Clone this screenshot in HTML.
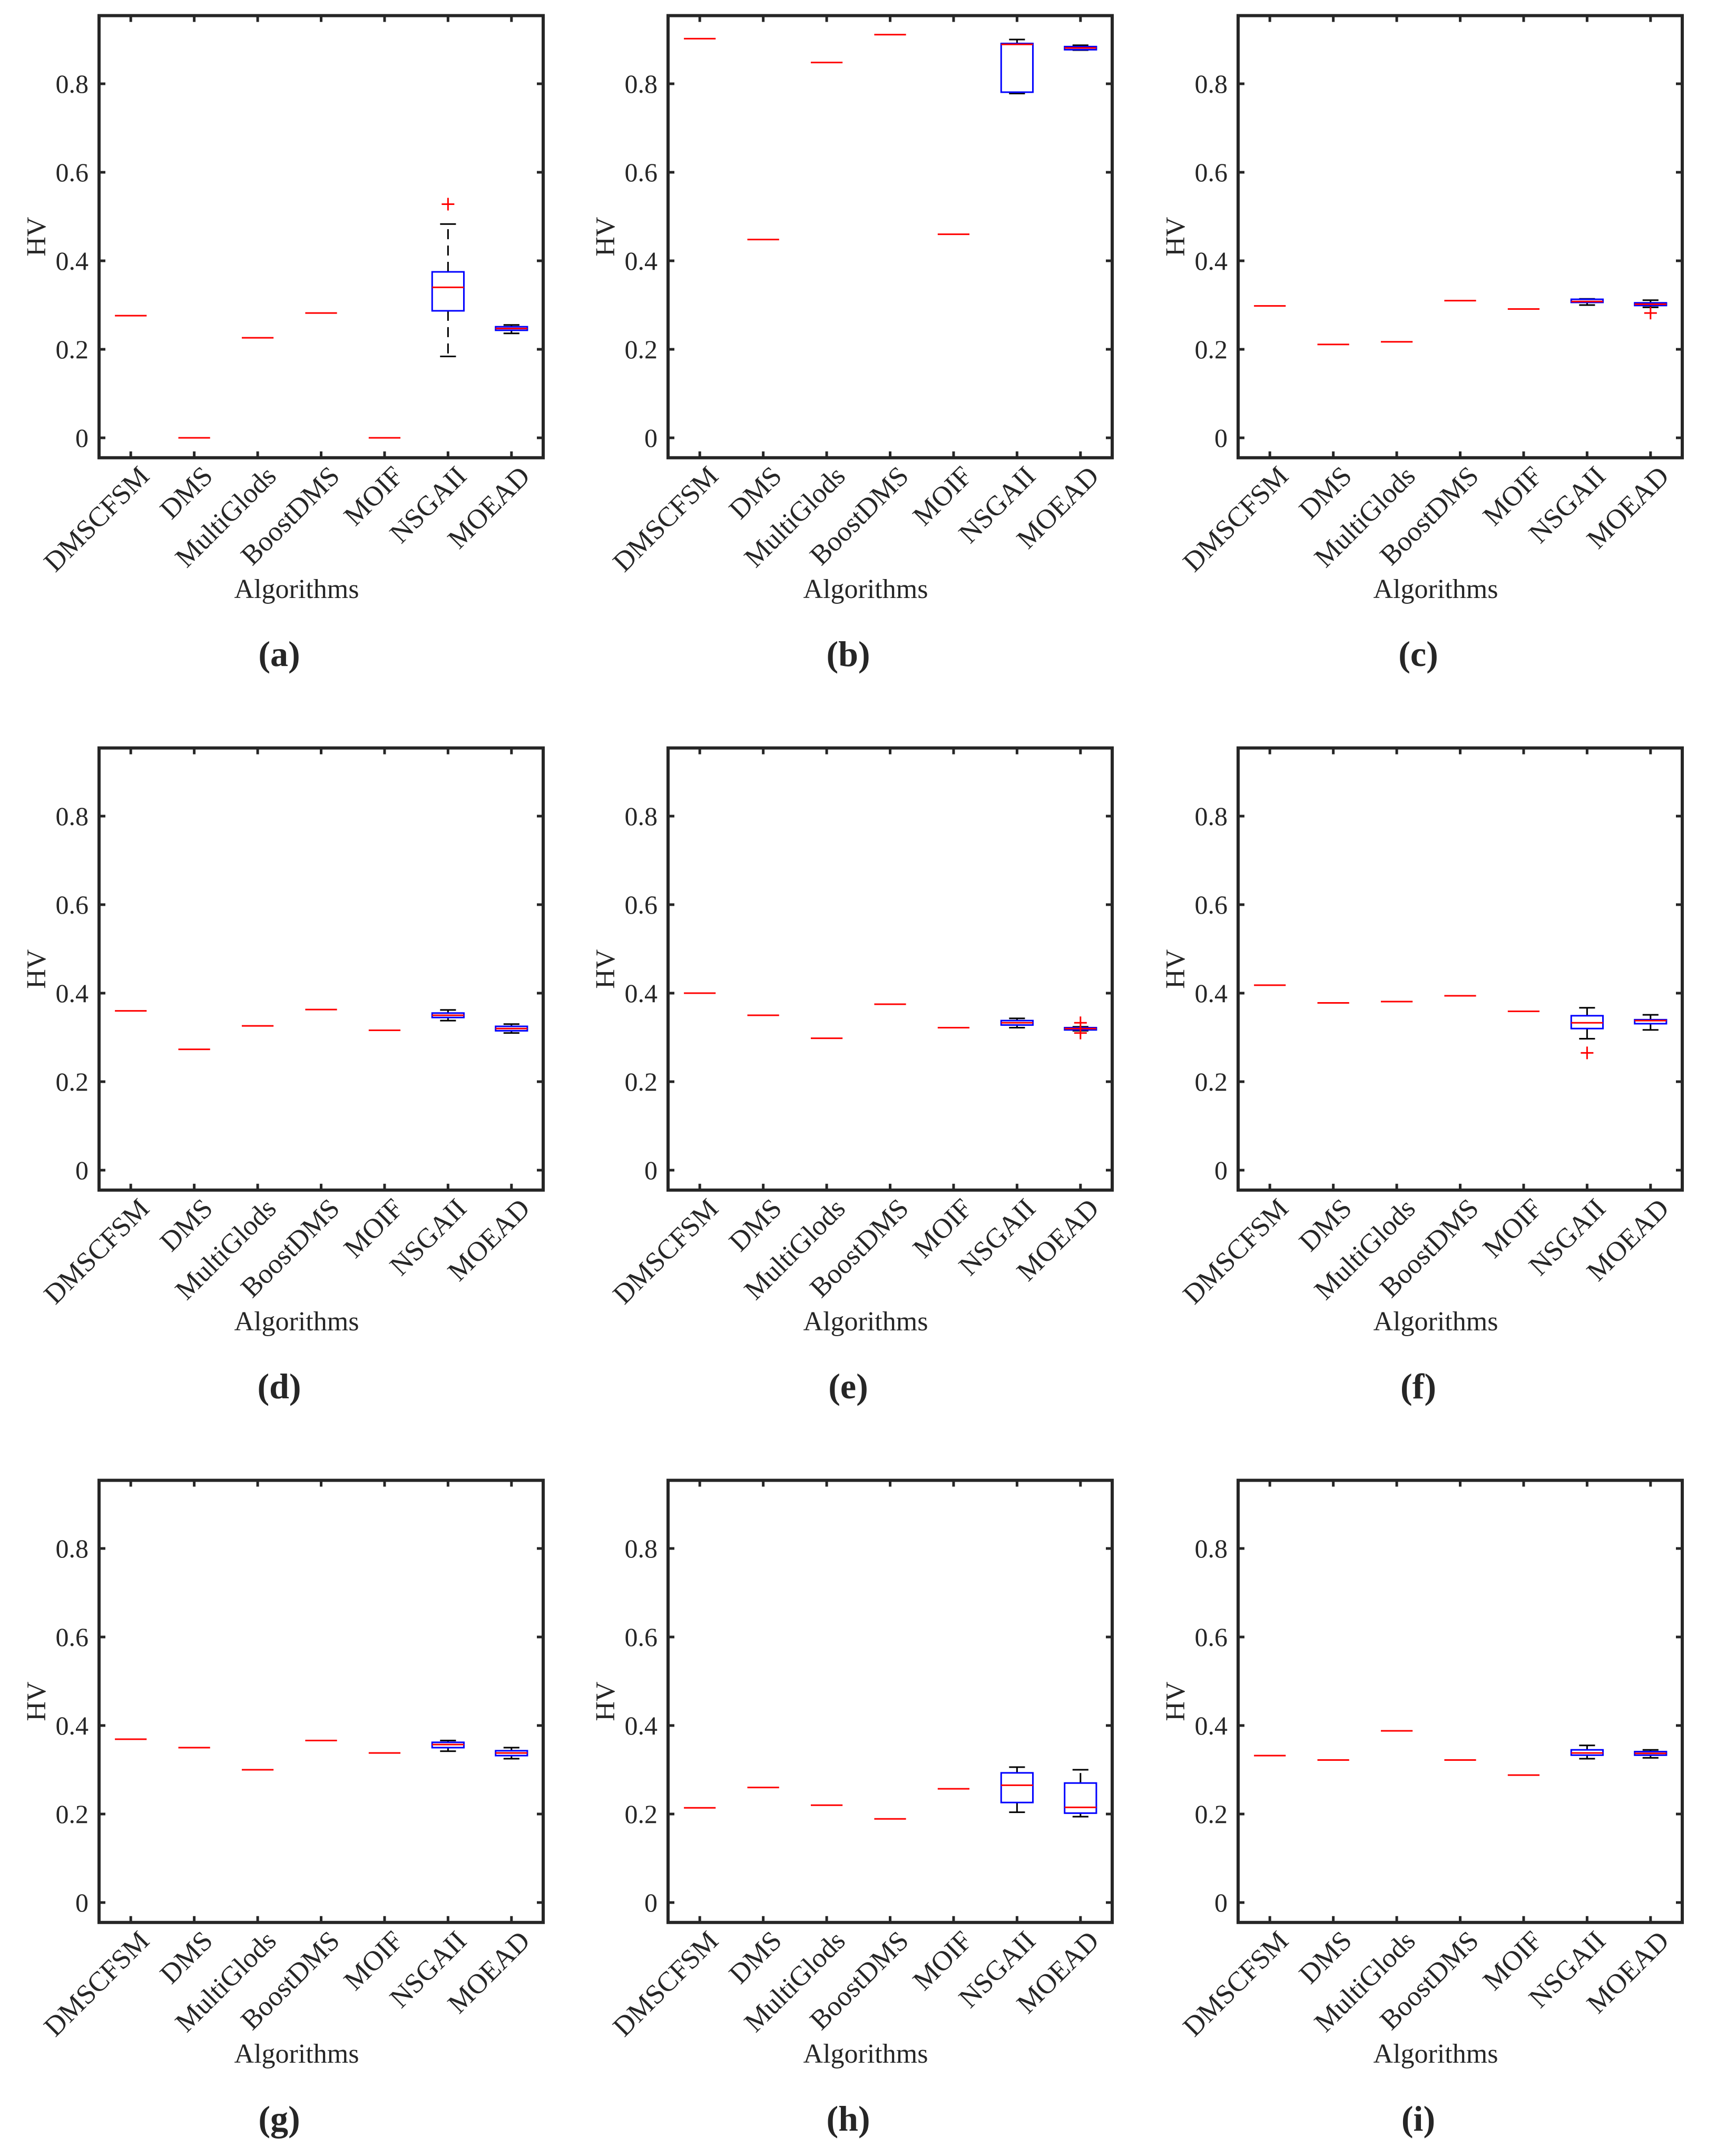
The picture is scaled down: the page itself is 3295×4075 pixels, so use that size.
<!DOCTYPE html>
<html><head><meta charset="utf-8"><style>
html,body{margin:0;padding:0;background:#fff;}
svg{display:block;}
text{font-family:"Liberation Serif",serif;fill:#262626;}
</style></head><body>
<svg id="fig" width="3295" height="4075" viewBox="0 0 3295 4075" xmlns="http://www.w3.org/2000/svg"></svg>
<script>
const categories = ["DMSCFSM","DMS","MultiGlods","BoostDMS","MOIF","NSGAII","MOEAD"];
const panelLabels = ["a","b","c","d","e","f","g","h","i"];
const yTicks = [0,0.2,0.4,0.6,0.8];
const yTickLabels = ["0","0.2","0.4","0.6","0.8"];
// per panel, per category: [whiskerLow, q1, median, q3, whiskerHigh]
const statsA = [[0.276,0.276,0.276,0.276,0.276],[0,0,0,0,0],[0.226,0.226,0.226,0.226,0.226],[0.282,0.282,0.282,0.282,0.282],[0,0,0,0,0],[0.184,0.287,0.340,0.375,0.483],[0.236,0.243,0.247,0.251,0.255]];
const statsB = [[0.902,0.902,0.902,0.902,0.902],[0.448,0.448,0.448,0.448,0.448],[0.848,0.848,0.848,0.848,0.848],[0.911,0.911,0.911,0.911,0.911],[0.460,0.460,0.460,0.460,0.460],[0.778,0.781,0.889,0.891,0.900],[0.876,0.877,0.881,0.884,0.887]];
const statsC = [[0.298,0.298,0.298,0.298,0.298],[0.211,0.211,0.211,0.211,0.211],[0.217,0.217,0.217,0.217,0.217],[0.310,0.310,0.310,0.310,0.310],[0.291,0.291,0.291,0.291,0.291],[0.300,0.306,0.308,0.313,0.314],[0.295,0.299,0.302,0.305,0.311]];
const statsD = [[0.360,0.360,0.360,0.360,0.360],[0.273,0.273,0.273,0.273,0.273],[0.326,0.326,0.326,0.326,0.326],[0.363,0.363,0.363,0.363,0.363],[0.316,0.316,0.316,0.316,0.316],[0.338,0.345,0.350,0.355,0.362],[0.310,0.315,0.320,0.325,0.330]];
const statsE = [[0.400,0.400,0.400,0.400,0.400],[0.350,0.350,0.350,0.350,0.350],[0.298,0.298,0.298,0.298,0.298],[0.375,0.375,0.375,0.375,0.375],[0.322,0.322,0.322,0.322,0.322],[0.322,0.328,0.333,0.338,0.343],[0.315,0.317,0.320,0.322,0.324]];
const statsF = [[0.418,0.418,0.418,0.418,0.418],[0.378,0.378,0.378,0.378,0.378],[0.381,0.381,0.381,0.381,0.381],[0.394,0.394,0.394,0.394,0.394],[0.359,0.359,0.359,0.359,0.359],[0.297,0.320,0.333,0.349,0.367],[0.317,0.331,0.338,0.340,0.351]];
const statsG = [[0.369,0.369,0.369,0.369,0.369],[0.350,0.350,0.350,0.350,0.350],[0.300,0.300,0.300,0.300,0.300],[0.366,0.366,0.366,0.366,0.366],[0.338,0.338,0.338,0.338,0.338],[0.342,0.350,0.357,0.362,0.366],[0.325,0.332,0.338,0.343,0.350]];
const statsH = [[0.214,0.214,0.214,0.214,0.214],[0.260,0.260,0.260,0.260,0.260],[0.220,0.220,0.220,0.220,0.220],[0.189,0.189,0.189,0.189,0.189],[0.257,0.257,0.257,0.257,0.257],[0.204,0.226,0.265,0.293,0.306],[0.194,0.202,0.215,0.270,0.300]];
const statsI = [[0.332,0.332,0.332,0.332,0.332],[0.322,0.322,0.322,0.322,0.322],[0.388,0.388,0.388,0.388,0.388],[0.322,0.322,0.322,0.322,0.322],[0.288,0.288,0.288,0.288,0.288],[0.325,0.333,0.338,0.345,0.355],[0.327,0.333,0.337,0.341,0.345]];
const allStats = [statsA,statsB,statsC,statsD,statsE,statsF,statsG,statsH,statsI];
// outliers: [panelIndex, categoryIndex, value]
const outliers = [[0,5,0.528],[2,6,0.282],[4,6,0.333],[4,6,0.310],[5,5,0.265]];

const NS="http://www.w3.org/2000/svg";
const svg=document.getElementById('fig');
function mk(tag,attrs,parent){const e=document.createElementNS(NS,tag);for(const k in attrs)e.setAttribute(k,attrs[k]);(parent||svg).appendChild(e);return e;}
const colLeft=[188,1268,2350], W=843, rowZero=[831,2221,3611], PX=840, YMIN=-0.045, YMAX=0.954;

allStats.forEach((stats,p)=>{
  const r=Math.floor(p/3), c=p%3;
  const L=colLeft[c], R=L+W;
  const yS=v=>rowZero[r]-v*PX;
  const xS=i=>L+(i+0.5)*W/7;
  const T=yS(YMAX), B=yS(YMIN);
  const g=mk('g',{});
  
  
  yTicks.forEach((t,k)=>{
    const y=yS(t);
    const tk=mk('path',{d:`M${L} ${y}h12M${R} ${y}h-12`,stroke:'#262626','stroke-width':5},g);
    
    
    const tl=mk('text',{x:L-20,y:y+17,'text-anchor':'end','font-size':50},g);
    
    
    tl.textContent=yTickLabels[k];
  });
  categories.forEach((cat,i)=>{
    const x=xS(i);
    const tk=mk('path',{d:`M${x} ${B}v-12M${x} ${T}v12`,stroke:'#262626','stroke-width':5},g);
    
    
    const tl=mk('text',{x:0,y:0,'text-anchor':'end','font-size':53,transform:`translate(${x+38},${B+38}) rotate(-45)`},g);
    
    
    tl.textContent=cat;
  });
  stats.forEach((s,i)=>{
    const x=xS(i), hw=W/7*0.25, cw=W/7*0.125;
    const bg=mk('g',{},g);
    
    
    const dash='19,12';
    if(s[4]>s[3]) mk('path',{d:`M${x} ${yS(s[3])}V${yS(s[4])}`,stroke:'#000','stroke-width':3,'stroke-dasharray':dash},bg);
    if(s[1]>s[0]) mk('path',{d:`M${x} ${yS(s[1])}V${yS(s[0])}`,stroke:'#000','stroke-width':3,'stroke-dasharray':dash},bg);
    if(s[4]>s[0]){
      mk('path',{d:`M${x-cw} ${yS(s[4])}h${2*cw}M${x-cw} ${yS(s[0])}h${2*cw}`,stroke:'#000','stroke-width':3},bg);
    }
    mk('rect',{x:x-hw,y:yS(s[3]),width:2*hw,height:Math.max(0,yS(s[1])-yS(s[3])),fill:'none',stroke:'#0000ff','stroke-width':3},bg);
    mk('path',{d:`M${x-hw} ${yS(s[2])}h${2*hw}`,stroke:'#ff0000','stroke-width':3},bg);
  });
  outliers.filter(o=>o[0]===p).forEach(o=>{
    const x=xS(o[1]), y=yS(o[2]);
    const om=mk('path',{d:`M${x-12} ${y}h24M${x} ${y-12}v24`,stroke:'#ff0000','stroke-width':3},g);
    
    
  });
  const ax=mk('rect',{x:L,y:T,width:W,height:B-T,fill:'none',stroke:'#262626','stroke-width':6},g);
  
  
  const yl=mk('text',{x:0,y:0,'text-anchor':'middle','font-size':52,transform:`translate(${L-102},${(T+B)/2}) rotate(-90)`},g);
  
  
  yl.textContent='HV';
  const xl=mk('text',{x:L+375,y:B+266,'text-anchor':'middle','font-size':52},g);
  
  
  xl.textContent='Algorithms';
  const cap=mk('text',{x:L+342,y:B+395,'text-anchor':'middle','font-size':68,'font-weight':'bold'},g);
  
  
  cap.textContent='('+panelLabels[p]+')';
});
</script>
</body></html>
